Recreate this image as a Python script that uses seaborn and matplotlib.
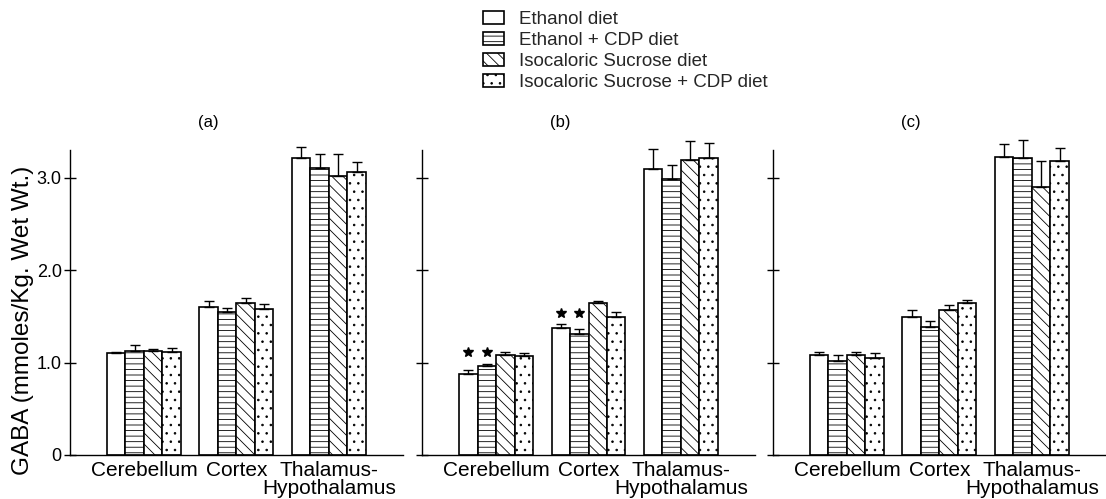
import numpy as np
import pandas as pd
import matplotlib
matplotlib.use("Agg")
import matplotlib.pyplot as plt
import seaborn as sns

# ---------------- data ----------------
regions = ["Cerebellum", "Cortex", "Thalamus-\nHypothalamus"]
diets = ["Ethanol diet", "Ethanol + CDP diet", "Isocaloric Sucrose diet",
         "Isocaloric Sucrose + CDP diet"]
panel_titles = ["(a)", "(b)", "(c)"]
ytick_values = [0, 1, 2, 3]
ytick_labels = ["0", "1.0", "2.0", "3.0"]

# panel (a)
eth_a = [1.10, 1.60, 3.21]
eth_a_err = [0.02, 0.07, 0.12]
cdp_a = [1.13, 1.55, 3.11]
cdp_a_err = [0.06, 0.04, 0.15]
suc_a = [1.13, 1.65, 3.02]
suc_a_err = [0.02, 0.05, 0.24]
scdp_a = [1.12, 1.58, 3.06]
scdp_a_err = [0.04, 0.05, 0.11]

# panel (b)
eth_b = [0.88, 1.37, 3.10]
eth_b_err = [0.04, 0.05, 0.21]
cdp_b = [0.96, 1.31, 2.99]
cdp_b_err = [0.03, 0.05, 0.15]
suc_b = [1.08, 1.64, 3.19]
suc_b_err = [0.04, 0.03, 0.21]
scdp_b = [1.07, 1.49, 3.21]
scdp_b_err = [0.03, 0.06, 0.17]

# panel (c)
eth_c = [1.08, 1.49, 3.23]
eth_c_err = [0.04, 0.08, 0.14]
cdp_c = [1.02, 1.38, 3.21]
cdp_c_err = [0.06, 0.07, 0.20]
suc_c = [1.08, 1.57, 2.90]
suc_c_err = [0.03, 0.05, 0.28]
scdp_c = [1.05, 1.65, 3.18]
scdp_c_err = [0.05, 0.03, 0.14]

# significance asterisks (panel b): region indices, for the two ethanol diets
signif_b_regions = [0, 1]
signif_b_diets = [0, 1]

panels = [
    ([eth_a, cdp_a, suc_a, scdp_a], [eth_a_err, cdp_a_err, suc_a_err, scdp_a_err]),
    ([eth_b, cdp_b, suc_b, scdp_b], [eth_b_err, cdp_b_err, suc_b_err, scdp_b_err]),
    ([eth_c, cdp_c, suc_c, scdp_c], [eth_c_err, cdp_c_err, suc_c_err, scdp_c_err]),
]

# ---------------- style ----------------
sns.set_theme(style="white")
plt.rcParams["font.family"] = ["Liberation Sans", "DejaVu Sans"]
plt.rcParams["hatch.linewidth"] = 0.6
plt.rcParams["hatch.color"] = "black"

hatches = ["", "---", "\\\\\\", ".."]

fig = plt.figure(figsize=(11.06, 4.99), dpi=100)
lefts = [0.0633, 0.3816, 0.6989]
bottom, width, height = 0.0882, 0.301, 0.611

legend_handles = None
for i, (means, errs) in enumerate(panels):
    ax = fig.add_axes([lefts[i], bottom, width, height])
    rows = []
    for d, diet in enumerate(diets):
        for r, reg in enumerate(regions):
            rows.append({"region": reg, "diet": diet, "value": means[d][r]})
    df = pd.DataFrame(rows)
    sns.barplot(data=df, x="region", y="value", hue="diet", order=regions,
                hue_order=diets, palette=["white"] * 4, saturation=1,
                edgecolor="black", linewidth=1.2, errorbar=None, width=0.8,
                ax=ax, legend=False)
    bar_containers = list(ax.containers)
    for d, cont in enumerate(bar_containers):
        cont.set_label(diets[d])
        for r, bar in enumerate(cont):
            bar.set_hatch(hatches[d])
            x = bar.get_x() + bar.get_width() / 2
            h = bar.get_height()
            eb = ax.errorbar(x, h, yerr=[[0], [errs[d][r]]], fmt="none",
                             ecolor="black", elinewidth=1.0, capsize=3.5,
                             capthick=1.0, zorder=3)
            for artist in eb.lines[1] + eb.lines[2]:
                artist.set_clip_on(False)
    if i == 1:
        for r in signif_b_regions:
            top = max(means[d][r] + errs[d][r] for d in signif_b_diets)
            for d in signif_b_diets:
                bar = bar_containers[d][r]
                x = bar.get_x() + bar.get_width() / 2
                ax.plot(x, top + 0.12, marker="*", ms=7, color="black",
                        linestyle="none")
    if legend_handles is None:
        legend_handles = bar_containers

    for s in ["top", "right"]:
        ax.spines[s].set_visible(False)
    for s in ["left", "bottom"]:
        ax.spines[s].set_color("black")
        ax.spines[s].set_linewidth(1.0)
    ax.set_xlim(-0.8, 2.8)
    ax.set_ylim(0, 3.3)
    ax.set_yticks(ytick_values)
    if i == 0:
        ax.set_yticklabels(ytick_labels)
        ax.set_ylabel("GABA (mmoles/Kg. Wet Wt.)", fontsize=17.5, color="black")
        ax.yaxis.set_label_coords(-0.108, 0.44)
    else:
        ax.set_yticklabels([])
        ax.set_ylabel("")
    ax.set_xlabel("")
    ax.tick_params(axis="y", direction="inout", length=8, width=1.0,
                   colors="black", labelsize=13, pad=2, left=True)
    ax.tick_params(axis="x", length=0, labelsize=15, pad=4, colors="black")
    for lbl in ax.get_xticklabels():
        lbl.set_linespacing(0.95)
    ax.text(0.415, 1.09, panel_titles[i], transform=ax.transAxes,
            ha="center", va="center", fontsize=12, color="black")

fig.legend(handles=legend_handles, labels=diets, loc="upper left",
           bbox_to_anchor=(0.437, 0.978), frameon=False, fontsize=13.5,
           handlelength=1.1, handleheight=0.7, handletextpad=0.8,
           labelspacing=0.2, borderpad=0, borderaxespad=0)

fig.savefig("out.png", dpi=100, facecolor="white")
